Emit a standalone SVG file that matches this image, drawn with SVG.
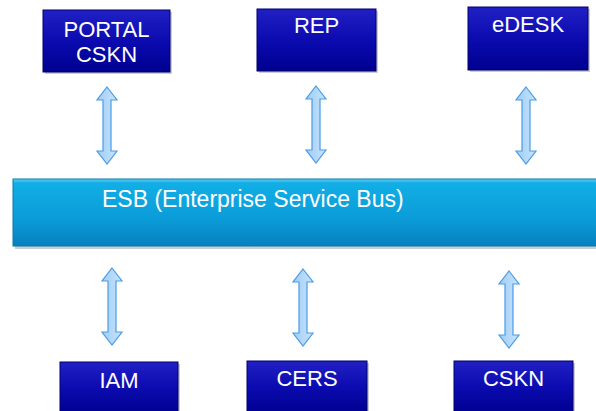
<svg xmlns="http://www.w3.org/2000/svg" width="596" height="411" viewBox="0 0 596 411">
<style>
.box{fill:url(#boxg);stroke:#00006a;stroke-width:1}
.shadow{fill:#9a9aa8;opacity:0.5}
.lbl{font-family:"Liberation Sans",Arial,sans-serif;font-size:22px;fill:#ffffff;text-anchor:middle}
.esbt{font-family:"Liberation Sans",Arial,sans-serif;font-size:23px;fill:#ffffff}
.arr{fill:url(#arrg);stroke:#4a9be6;stroke-width:1.2;stroke-linejoin:miter}
</style>
<defs>
<linearGradient id="boxg" x1="0" y1="0" x2="0" y2="1">
<stop offset="0" stop-color="#2020c4"/>
<stop offset="0.5" stop-color="#0b0bb0"/>
<stop offset="1" stop-color="#000090"/>
</linearGradient>
<linearGradient id="esbg" x1="0" y1="0" x2="0" y2="1">
<stop offset="0" stop-color="#5fd3f6"/>
<stop offset="0.06" stop-color="#12aee6"/>
<stop offset="0.6" stop-color="#0a9cd8"/>
<stop offset="1" stop-color="#0880be"/>
</linearGradient>
<linearGradient id="arrg" x1="0" y1="0" x2="1" y2="0">
<stop offset="0" stop-color="#9fcdf6"/>
<stop offset="1" stop-color="#c8e4fb"/>
</linearGradient>
<path id="arrow" d="M0,0 L10,13 L4,13 L4,64 L10,64 L0,77 L-10,64 L-4,64 L-4,13 L-10,13 Z"/>
</defs>

<g id="esb">
<rect x="15" y="182" width="583" height="67" class="shadow"/>
<rect x="13" y="179" width="585" height="67" fill="url(#esbg)" stroke="#0878b0" stroke-width="1"/>
<text x="102" y="207" class="esbt">ESB (Enterprise Service Bus)</text>
</g>

<g id="portal-cskn">
<rect x="45" y="12" width="127" height="62" class="shadow"/>
<rect x="43" y="10" width="127" height="62" class="box"/>
<text x="106.5" y="37" class="lbl">PORTAL</text>
<text x="106.5" y="62" class="lbl">CSKN</text>
</g>
<g id="rep">
<rect x="259" y="11" width="119" height="62" class="shadow"/>
<rect x="257" y="9" width="119" height="62" class="box"/>
<text x="316.5" y="33" class="lbl">REP</text>
</g>
<g id="edesk">
<rect x="470" y="9" width="120" height="63" class="shadow"/>
<rect x="468" y="7" width="120" height="63" class="box"/>
<text x="528" y="32" class="lbl">eDESK</text>
</g>
<g id="iam">
<rect x="62" y="364" width="118" height="50" class="shadow"/>
<rect x="60" y="362" width="118" height="52" class="box"/>
<text x="119" y="388" class="lbl">IAM</text>
</g>
<g id="cers">
<rect x="249" y="363" width="120" height="50" class="shadow"/>
<rect x="247" y="361" width="120" height="52" class="box"/>
<text x="307" y="386" class="lbl">CERS</text>
</g>
<g id="cskn">
<rect x="456" y="363" width="119" height="50" class="shadow"/>
<rect x="454" y="361" width="119" height="52" class="box"/>
<text x="513.5" y="386" class="lbl">CSKN</text>
</g>

<g id="connectors">
<use href="#arrow" class="arr" transform="translate(107,87)"/>
<use href="#arrow" class="arr" transform="translate(316,86)"/>
<use href="#arrow" class="arr" transform="translate(526,87)"/>
<use href="#arrow" class="arr" transform="translate(112,268)"/>
<use href="#arrow" class="arr" transform="translate(303,269)"/>
<use href="#arrow" class="arr" transform="translate(509,271)"/>
</g>
</svg>
